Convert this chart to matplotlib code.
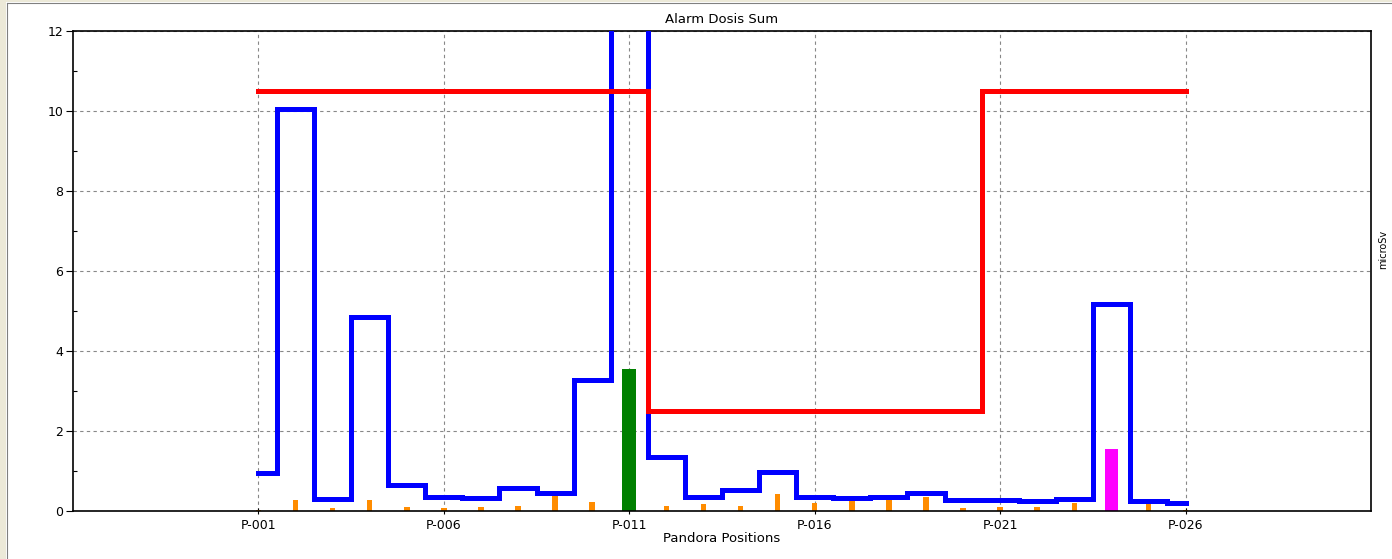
import matplotlib.pyplot as plt
from matplotlib.patches import Rectangle

# positions P-001 .. P-026
positions = list(range(1, 27))
tick_positions = [1, 6, 11, 16, 21, 26]
tick_labels = ["P-001", "P-006", "P-011", "P-016", "P-021", "P-026"]

# summed dose per position (blue step line), P-011 runs off the scale
dose_sum = [0.96, 10.05, 0.29, 4.85, 0.65, 0.36, 0.32, 0.57, 0.46, 3.28,
            14.0, 1.36, 0.36, 0.53, 0.97, 0.36, 0.32, 0.36, 0.44, 0.28,
            0.28, 0.24, 0.29, 5.18, 0.25, 0.21]

# alarm threshold (red step line)
threshold = [10.5, 10.5, 10.5, 10.5, 10.5, 10.5, 10.5, 10.5, 10.5, 10.5,
             10.5, 2.5, 2.5, 2.5, 2.5, 2.5, 2.5, 2.5, 2.5, 2.5,
             10.5, 10.5, 10.5, 10.5, 10.5, 10.5]

# single measured dose per position (small orange bars)
dose_single = [0.03, 0.27, 0.07, 0.27, 0.10, 0.07, 0.10, 0.13, 0.38, 0.22,
               0.0, 0.13, 0.17, 0.13, 0.42, 0.21, 0.28, 0.30, 0.36, 0.07,
               0.10, 0.10, 0.21, 0.0, 0.21, 0.03]

# alarm bars
alarm_pos = [11, 24]
alarm_dose = [3.55, 1.55]
alarm_colors = ["#008000", "#ff00ff"]

W, H = 1392, 559
plt.rcParams["font.family"] = ["DejaVu Sans"]
fig = plt.figure(figsize=(W / 100, H / 100), dpi=100)
fig.patch.set_facecolor("white")

# window frame at the left and top
fig.patches.append(Rectangle((0, 0), 6 / W, 1, transform=fig.transFigure,
                             facecolor="#ece9d8", edgecolor="none", zorder=0))
fig.patches.append(Rectangle((0, 1 - 2 / H), 1, 2 / H, transform=fig.transFigure,
                             facecolor="#ece9d8", edgecolor="none", zorder=0))
fig.add_artist(plt.Line2D([6.5 / W, 6.5 / W], [0, 1 - 2.5 / H], color="#808080", lw=0.8))
fig.add_artist(plt.Line2D([6.5 / W, 1], [1 - 2.5 / H, 1 - 2.5 / H], color="#808080", lw=0.8))

ax = fig.add_axes([73 / W, 48 / H, (1371 - 73) / W, (511 - 31) / H])

# bars
ax.bar(positions, dose_single, width=0.15, color="#ff8c00", zorder=2)
ax.bar(alarm_pos, alarm_dose, width=0.37, color=alarm_colors, zorder=2)

# step lines
ax.plot(positions, dose_sum, drawstyle="steps-mid", color="#0000ff", lw=3.6,
        solid_joinstyle="miter", zorder=3)
ax.plot(positions, threshold, drawstyle="steps-mid", color="#ff0000", lw=3.6,
        solid_joinstyle="miter", zorder=4)

ax.set_xlim(-4, 31)
ax.set_ylim(0, 12)
ax.set_xticks(tick_positions)
ax.set_xticklabels(tick_labels)
ax.set_yticks(range(0, 13, 2))
ax.set_yticks(range(1, 12, 2), minor=True)

ax.tick_params(axis="x", direction="inout", length=5, width=0.8, pad=3, labelsize=9)
ax.tick_params(axis="y", which="major", direction="out", length=5, width=0.8, pad=2, labelsize=9)
ax.tick_params(axis="y", which="minor", direction="in", length=3, width=0.8)

ax.grid(True, which="major", color="#888888", linestyle=(0, (3, 3)), linewidth=0.8, zorder=1)
ax.set_axisbelow(True)
for s in ax.spines.values():
    s.set_linewidth(1.2)
    s.set_color("black")

ax.set_title("Alarm Dosis Sum", fontsize=9.5, pad=6)
ax.set_xlabel("Pandora Positions", fontsize=9.5, labelpad=0)
fig.text(1383 / W, (H - 249) / H, "microSv", rotation=90, fontsize=7,
         ha="center", va="center")

fig.savefig("out.png", dpi=100)
